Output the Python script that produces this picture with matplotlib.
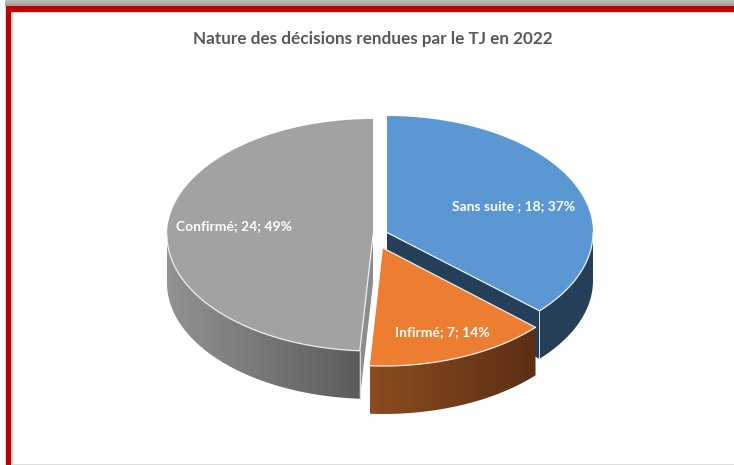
import numpy as np
import matplotlib
matplotlib.use("Agg")
import matplotlib.pyplot as plt
from matplotlib.patches import Polygon, Rectangle

# data
names = ["Sans suite ", "Infirmé", "Confirmé"]
values = [18, 7, 24]
title = "Nature des décisions rendues par le TJ en 2022"

top_colors = ["#5b98d3", "#ed7d31", "#a2a2a2"]
cut_colors = ["#243f57", "#5e3013", "#8c8c8c"]
side_left = ["#243f57", "#8a4c20", "#929292"]
side_right = ["#243f57", "#5c2f12", "#5c5c5c"]

# pie geometry in pixels
centers = [(387, 232.5), (383, 248), (373, 235)]
radii_y = [116.5, 118, 116]
rx = 206
depth = 48
label_pos = [(514, 206.5), (442, 332), (234, 226)]

plt.rcParams["font.family"] = ["Lato", "DejaVu Sans"]
fig = plt.figure(figsize=(7.34, 4.65), dpi=100)
ax = fig.add_axes([0, 0, 1, 1])


def rim(center, ry, a0, a1, n=120):
    # angles are clockwise from the top of the pie
    t = np.radians(np.linspace(a0, a1, n))
    return np.column_stack([center[0] + rx * np.sin(t), center[1] - ry * np.cos(t)])


def gradient(poly, c0, c1, zorder):
    x0, x1 = poly[:, 0].min(), poly[:, 0].max()
    y0, y1 = poly[:, 1].min(), poly[:, 1].max()
    rgb0 = np.array(matplotlib.colors.to_rgb(c0))
    rgb1 = np.array(matplotlib.colors.to_rgb(c1))
    ramp = np.linspace(0, 1, 200)[None, :, None]
    img = rgb0 + (rgb1 - rgb0) * ramp
    im = ax.imshow(img, extent=[x0, x1, y1, y0], aspect="auto", zorder=zorder)
    im.set_clip_path(Polygon(poly, closed=True, transform=ax.transData))


# top shadow and red frame
shadow = np.linspace(0.74, 0.62, 6)[:, None, None] * np.ones((6, 1, 3))
ax.imshow(shadow, extent=[5, 734, 6, 0], aspect="auto", zorder=1)
ax.add_patch(Rectangle((5, 6), 8, 459, fc="#d4d4d4", ec="none", zorder=1))
ax.add_patch(Rectangle((5, 12), 729, 1.5, fc="#dcdcdc", ec="none", zorder=1))
ax.add_patch(Rectangle((5, 463.5), 729, 1.5, fc="#dedede", ec="none", zorder=1))
ax.add_patch(Rectangle((6, 6), 728, 6, fc="#c00000", ec="none", zorder=2))
ax.add_patch(Rectangle((6, 6), 5, 459, fc="#c00000", ec="none", zorder=2))

total = sum(values)
angles = np.concatenate([[0], np.cumsum(values) / total * 360])

# blue, then grey, then orange so the nearer pieces overlap correctly
for z, i in zip([10, 20, 30], [0, 2, 1]):
    c = np.array(centers[i], dtype=float)
    ry = radii_y[i]
    a0, a1 = angles[i], angles[i + 1]
    edge = rim(c, ry, a0, a1)

    # outer wall, only the part facing the viewer
    low0, low1 = max(a0, 90), min(a1, 270)
    wall_top = rim(c, ry, low0, low1)
    wall = np.vstack([wall_top, wall_top[::-1] + [0, depth]])
    if i == 0:
        ax.add_patch(Polygon(wall, closed=True, fc=side_left[i], ec="none", zorder=z))
    else:
        gradient(wall, side_left[i], side_right[i], z)

    # cut face next to the gap
    if i != 1:
        rim_pt = edge[-1] if i == 0 else edge[0]
        cut = np.array([c, rim_pt, rim_pt + [0, depth], c + [0, depth]])
        ax.add_patch(Polygon(cut, closed=True, fc=cut_colors[i], ec="none", zorder=z + 1))
        ax.plot([rim_pt[0], rim_pt[0]], [rim_pt[1], rim_pt[1] + depth],
                color="#d5dde5", lw=0.7, zorder=z + 2)

    # top face
    face = np.vstack([c, edge])
    ax.add_patch(Polygon(face, closed=True, fc=top_colors[i], ec="none", zorder=z + 3))

    # light edge only on the front rim and the cut sides
    front = rim(c, ry, low0, low1)
    if i == 0:
        line = np.vstack([front, c])
    elif i == 1:
        line = np.vstack([edge[0], front, c, edge[0]])
        line = np.vstack([c, edge[0], front])
    else:
        line = np.vstack([front[::-1], c])
    ax.plot(line[:, 0], line[:, 1], color="#eeeeee", lw=0.9, zorder=z + 4)

# labels
for name, v, pos in zip(names, values, label_pos):
    pct = round(v / total * 100)
    ax.text(pos[0], pos[1], f"{name}; {v}; {pct}%", color="white", fontsize=10.0,
            fontweight="bold", ha="center", va="center", zorder=50)

ax.text(372.5, 39, title, color="#595959", fontsize=12.3, fontweight="bold",
        ha="center", va="center", zorder=50)

ax.set_xlim(0, 734)
ax.set_ylim(465, 0)
ax.axis("off")
fig.savefig("out.png", dpi=100, facecolor="white")
